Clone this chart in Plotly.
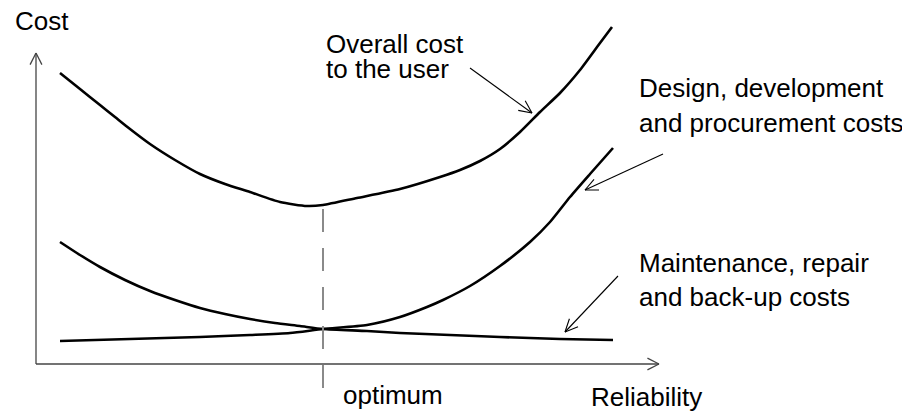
import math
import plotly.graph_objects as go

# ---- data (reliability on x, cost on y; arbitrary units) ----
overall_rel = [24, 44, 64, 79, 94, 114, 139, 164, 189, 214, 244, 271, 287, 321, 364, 404,
               424, 444, 464, 484, 504, 524, 544, 564, 576]
overall_cost = [291, 275, 259, 247, 235, 220, 204, 190, 180, 172, 162, 158, 159, 166, 175, 187,
                194, 203, 215, 232, 252, 271, 294, 321, 337]

maint_rel = [24, 44, 64, 89, 114, 139, 164, 189, 214, 239, 264, 287, 331, 364, 414, 464, 524, 577]
maint_cost = [122, 109, 97, 84, 73, 64, 56, 50, 45, 41, 38, 35, 33, 31, 29, 27, 25, 24]

design_rel = [24, 94, 164, 214, 254, 287, 331, 364, 391, 407, 434, 464, 494, 514, 534, 554, 577]
design_cost = [23, 25, 27, 29, 31, 35, 39, 47, 57, 64, 78, 98, 122, 142, 167, 190, 216]

optimum_rel = 287
optimum_span = [-24, 168]

axis_x_end = 623
axis_y_end = 311

labels = {
    "cost": "Cost",
    "reliability": "Reliability",
    "optimum": "optimum",
    "overall": ["Overall cost", "to the user"],
    "design": ["Design, development", "and procurement costs"],
    "maint": ["Maintenance, repair", "and back-up costs"],
}

# pointer arrows: (tail, tip)
pointer_overall = [(434, 296), (496, 251)]
pointer_design = [(627, 210), (549, 174)]
pointer_maint = [(582, 88), (529, 32)]

# ---- figure ----
FONT = "Liberation Sans, Arial, sans-serif"
fig = go.Figure()

for xs, ys in [(overall_rel, overall_cost), (design_rel, design_cost), (maint_rel, maint_cost)]:
    fig.add_trace(go.Scatter(x=xs, y=ys, mode="lines",
                             line=dict(color="black", width=2.6, shape="spline", smoothing=0.6),
                             hoverinfo="skip", showlegend=False))

# optimum dashed line
fig.add_trace(go.Scatter(x=[optimum_rel, optimum_rel], y=optimum_span, mode="lines",
                         line=dict(color="#8a8a8a", width=2, dash="23px,16px"),
                         hoverinfo="skip", showlegend=False))

shapes = []


def line(x0, y0, x1, y1, color, width):
    shapes.append(dict(type="line", xref="x", yref="y", x0=x0, y0=y0, x1=x1, y1=y1,
                       line=dict(color=color, width=width)))


def arrow(tail, tip, color, width, head_len=13, half_angle=27):
    (x0, y0), (x1, y1) = tail, tip
    line(x0, y0, x1, y1, color, width)
    ang = math.atan2(y0 - y1, x0 - x1)
    for s in (-1, 1):
        a = ang + s * math.radians(half_angle)
        line(x1, y1, x1 + head_len * math.cos(a), y1 + head_len * math.sin(a), color, width)


# axes
arrow((0, 0), (axis_x_end, 0), "#444444", 1.3)
arrow((0, 0), (0, axis_y_end), "#444444", 1.3)

# pointers
for p in (pointer_overall, pointer_design, pointer_maint):
    arrow(p[0], p[1], "black", 1.1, head_len=14, half_angle=25)

fig.update_layout(shapes=shapes)

annots = []


def text(x, y, s):
    annots.append(dict(x=x, y=y, xref="x", yref="y", text=s, showarrow=False,
                       xanchor="left", yanchor="middle",
                       font=dict(family=FONT, size=26, color="black")))


text(-23, 343, labels["cost"])
text(288, 320, labels["overall"][0])
text(288, 295, labels["overall"][1])
text(601, 276, labels["design"][0])
text(601, 241, labels["design"][1])
text(601, 101, labels["maint"][0])
text(601, 67, labels["maint"][1])
text(305, -31, labels["optimum"])
text(553, -33, labels["reliability"])

# the page body has an 8px margin, so the figure is 8px smaller and ranges shifted
fig.update_layout(
    annotations=annots,
    width=902, height=405,
    margin=dict(l=0, r=0, t=0, b=0, pad=0),
    paper_bgcolor="white", plot_bgcolor="white",
    xaxis=dict(range=[-28, 874], visible=False, fixedrange=True),
    yaxis=dict(range=[-49, 356], visible=False, fixedrange=True),
)

fig.write_html("out.html")
